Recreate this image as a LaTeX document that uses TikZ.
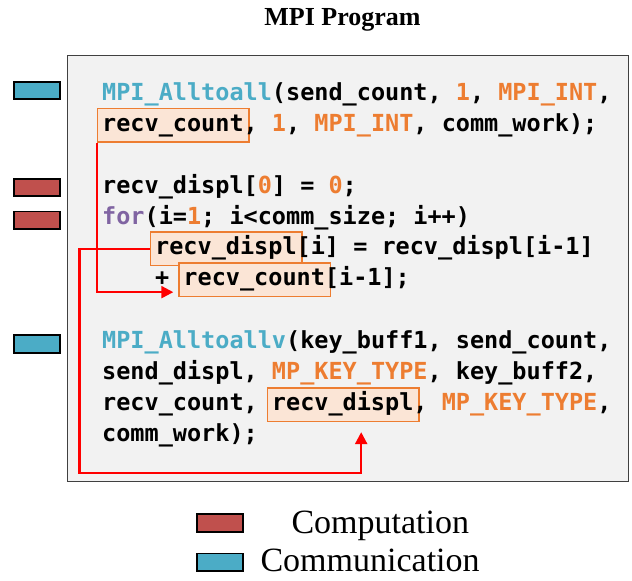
\documentclass[tikz,border=0pt]{standalone}
\usepackage{fontspec}
\setmainfont{Liberation Serif}
\setmonofont{DejaVu Sans Mono}
\usetikzlibrary{arrows.meta}
\definecolor{commblue}{HTML}{4BACC6}
\definecolor{compred}{HTML}{C0504D}
\definecolor{kworange}{HTML}{ED7D31}
\definecolor{kwpurple}{HTML}{8064A2}
\definecolor{hlfill}{HTML}{FBE5D6}
\definecolor{boxgray}{HTML}{F2F2F2}
\definecolor{boxline}{HTML}{404040}
\newcommand{\codefont}{\fontsize{23.5}{28}\selectfont\ttfamily\bfseries}
\newcommand{\kw}[1]{\textcolor{kworange}{#1}}
\newcommand{\mpi}[1]{\textcolor{commblue}{#1}}
\begin{document}
\begin{tikzpicture}[x=1pt,y=-1pt,
  code/.style={anchor=base west,inner sep=0pt,font=\codefont},
  hl/.style={draw=kworange,fill=hlfill,line width=1.3pt,anchor=base west,inner xsep=5pt,inner ysep=4pt,text height=18.5pt,text depth=7pt,font=\codefont},
  tag/.style={draw=black,line width=1.6pt,minimum width=45.5pt,minimum height=17.5pt,inner sep=0pt},
  flow/.style={red,line width=2.3pt,-{Triangle[length=12pt,width=12pt]}}]

  \useasboundingbox (0,0) rectangle (632,581);

  \node[anchor=base,font=\fontsize{26}{30}\selectfont\bfseries] (title) at (342.5,25) {MPI Program};
  \node[draw=boxline,fill=boxgray,line width=1.2pt,anchor=north west,minimum width=561pt,minimum height=426pt,inner sep=0pt] (prog) at (66.5,54.5) {};

  \node[tag,fill=commblue] (t1) at (37,90.5) {};
  \node[tag,fill=compred] (t2) at (37,187.5) {};
  \node[tag,fill=compred] (t3) at (37,220.3) {};
  \node[tag,fill=commblue] (t4) at (37,344) {};

  \node[hl] (rc1) at (97,131) {\phantom{recv\_count}};
  \node[hl] (rd1) at (150,254.4) {\phantom{recv\_displ}};
  \node[hl] (rc2) at (178.3,285.5) {\phantom{recv\_count}};
  \node[hl] (rd2) at (266.8,410.5) {\phantom{recv\_displ}};

  \node[code] (l1) at (102,100) {\mpi{MPI\_Alltoall}(send\_count, \kw{1}, \kw{MPI\_INT},};
  \node[code] (l2) at (102,131) {recv\_count, \kw{1}, \kw{MPI\_INT}, comm\_work);};
  \node[code] (l4) at (102,193.3) {recv\_displ[\kw{0}] = \kw{0};};
  \node[code] (l5) at (102,224.4) {\textcolor{kwpurple}{for}(i=\kw{1}; i<comm\_size; i++)};
  \node[code] (l6) at (155,254.4) {recv\_displ[i] = recv\_displ[i-1]};
  \node[code] (l7) at (155,285.5) {+ recv\_count[i-1];};
  \node[code] (l9) at (102,348.5) {\mpi{MPI\_Alltoallv}(key\_buff1, send\_count,};
  \node[code] (l10) at (102,379.5) {send\_displ, \kw{MP\_KEY\_TYPE}, key\_buff2,};
  \node[code] (l11) at (102,410.5) {recv\_count, recv\_displ, \kw{MP\_KEY\_TYPE},};
  \node[code] (l12) at (102,441.5) {comm\_work);};

  \coordinate (loop) at (79.5,473);
  \draw[flow] (rc1.south west) |- ([xshift=-5pt,yshift=5pt]rc2.south west);
  \draw[flow] (rd1.west) -| (loop) -| ([xshift=18pt,yshift=-10pt]rd2.south);

  \node[tag,fill=compred] (k1) at (220,523) {};
  \node[tag,fill=commblue] (k2) at (220,562.2) {};
  \node[anchor=base west,font=\fontsize{34}{40}\selectfont] (comp) at (288,533) {Computation};
  \node[anchor=base west,font=\fontsize{34}{40}\selectfont] (comm) at (257,571.7) {Communication};
\end{tikzpicture}
\end{document}
